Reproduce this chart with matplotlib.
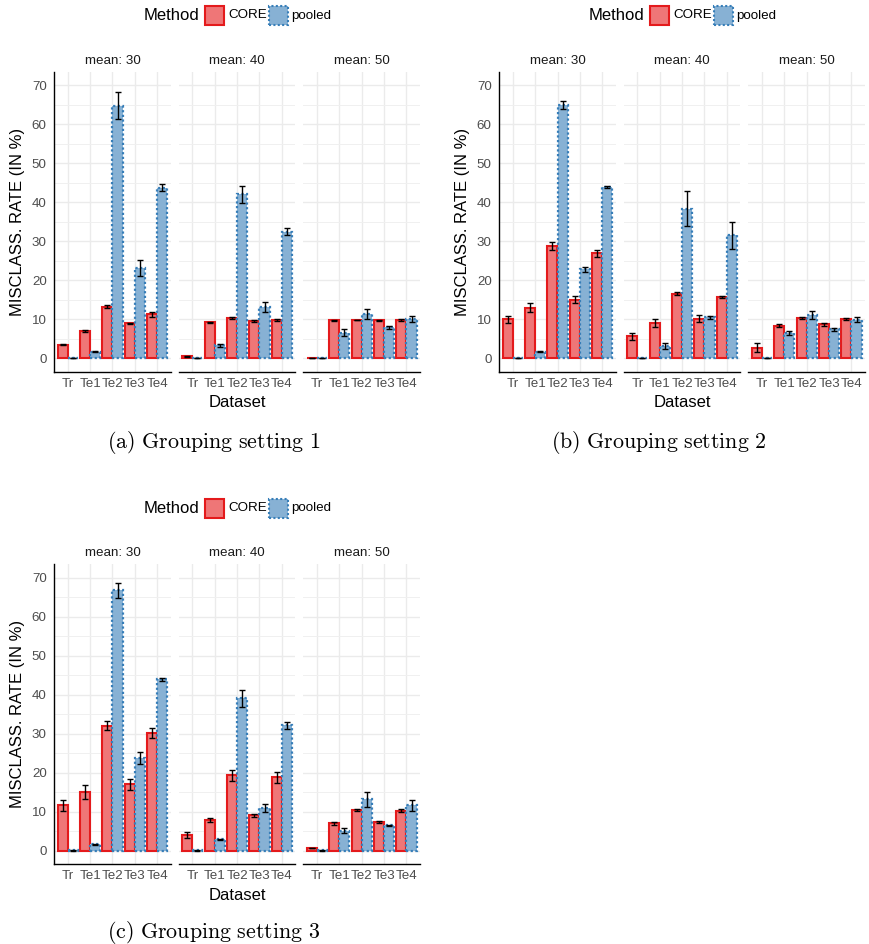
import matplotlib
matplotlib.use("Agg")
import matplotlib.pyplot as plt
from matplotlib.patches import Rectangle
import numpy as np

plt.rcParams["font.family"] = ["Liberation Sans", "DejaVu Sans"]
plt.rcParams["mathtext.fontset"] = "cm"

# ---------------------------------------------------------------- data
datasets = ["Tr", "Te1", "Te2", "Te3", "Te4"]
means = [30, 40, 50]
methods = ["CORE", "pooled"]

# rows: mean 30, 40, 50 ; columns: Tr, Te1, Te2, Te3, Te4
core_s1 = [[3.5, 7.0, 13.2, 9.0, 11.3],
           [0.5, 9.2, 10.3, 9.5, 9.8],
           [0.1, 9.7, 9.8, 9.7, 9.8]]
core_s1_err = [[0.2, 0.3, 0.4, 0.1, 0.6],
               [0.1, 0.2, 0.2, 0.2, 0.2],
               [0.05, 0.2, 0.1, 0.2, 0.2]]
pooled_s1 = [[0.1, 1.7, 64.8, 23.1, 43.8],
             [0.1, 3.3, 42.1, 13.2, 32.5],
             [0.1, 6.6, 11.3, 7.9, 10.1]]
pooled_s1_err = [[0.05, 0.1, 3.5, 2.0, 1.0],
                 [0.05, 0.3, 2.2, 1.3, 0.9],
                 [0.05, 0.8, 1.3, 0.4, 0.7]]

core_s2 = [[10.0, 13.0, 28.8, 15.0, 26.9],
           [5.6, 9.1, 16.6, 10.2, 15.8],
           [2.7, 8.4, 10.3, 8.7, 10.0]]
core_s2_err = [[0.9, 1.1, 1.0, 0.9, 1.0],
               [1.0, 0.95, 0.3, 0.8, 0.3],
               [1.1, 0.3, 0.3, 0.3, 0.3]]
pooled_s2 = [[0.1, 1.7, 65.0, 22.8, 44.0],
             [0.1, 3.1, 38.4, 10.5, 31.5],
             [0.1, 6.5, 11.0, 7.4, 9.9]]
pooled_s2_err = [[0.05, 0.2, 1.0, 0.6, 0.3],
                 [0.05, 0.75, 4.4, 0.4, 3.4],
                 [0.05, 0.6, 1.0, 0.3, 0.6]]

core_s3 = [[11.7, 15.1, 32.1, 17.1, 30.1],
           [4.1, 7.9, 19.4, 9.1, 18.8],
           [0.7, 7.0, 10.5, 7.3, 10.3]]
core_s3_err = [[1.4, 1.7, 1.1, 1.4, 1.3],
               [0.8, 0.4, 1.4, 0.4, 1.3],
               [0.1, 0.4, 0.3, 0.3, 0.3]]
pooled_s3 = [[0.1, 1.7, 66.8, 23.8, 44.0],
             [0.1, 2.9, 39.1, 10.9, 32.2],
             [0.1, 5.1, 13.2, 6.5, 11.7]]
pooled_s3_err = [[0.05, 0.1, 2.0, 1.5, 0.4],
                 [0.05, 0.2, 2.2, 1.0, 0.95],
                 [0.05, 0.65, 1.9, 0.1, 1.45]]

# ---------------------------------------------------------------- style
W, H = 870, 944
fig = plt.figure(figsize=(W / 100, H / 100), dpi=100)

CORE_FILL, CORE_EDGE = "#EF7677", "#E41A1C"
POOL_FILL, POOL_EDGE = "#87B1D4", "#377EB8"
DOTTED = (0, (1.0, 1.1))
TICK_COL = "#4D4D4D"


def fbox(l, t, r, b):
    """pixel box (left, top, right, bottom) -> figure fraction rect"""
    return [l / W, 1 - b / H, (r - l) / W, (b - t) / H]


def ftext(x, y, s, **kw):
    fig.text(x / W, 1 - y / H, s, **kw)


def fkey(l, t, size, fill, edge, ls):
    fig.add_artist(Rectangle((l / W, 1 - (t + size) / H), size / W, size / H,
                             transform=fig.transFigure, facecolor=fill,
                             edgecolor=edge, linewidth=1.5, linestyle=ls))


def draw_setting(x0, y0, core, core_err, pooled, pooled_err, caption, cap_y):
    facet_off = [0, 124.6, 249.2]
    facet_w = 116.4
    top, bottom = 71.7 + y0, 371.7 + y0
    x = np.arange(1, len(datasets) + 1)
    for i, m in enumerate(means):
        l = x0 + facet_off[i]
        ax = fig.add_axes(fbox(l, top, l + facet_w, bottom))
        ax.set_xlim(0.4, 5.6)
        ax.set_ylim(-3.44, 73.5)
        ax.set_yticks(np.arange(0, 71, 10))
        ax.set_yticks(np.arange(5, 70, 10), minor=True)
        ax.set_xticks(x)
        ax.set_xticklabels(datasets)
        ax.set_axisbelow(True)
        ax.grid(which="major", color="#EBEBEB", linewidth=1.0)
        ax.grid(which="minor", axis="y", color="#F0F0F0", linewidth=0.7)
        for s in ("top", "right", "left"):
            ax.spines[s].set_visible(False)
        ax.spines["bottom"].set_color("black")
        ax.spines["bottom"].set_linewidth(1.0)
        if i == 0:
            ax.spines["left"].set_visible(True)
            ax.spines["left"].set_color("black")
            ax.spines["left"].set_linewidth(1.0)
        ax.tick_params(which="both", length=0, labelsize=9.6,
                       labelcolor=TICK_COL, pad=4.5)
        ax.tick_params(axis="y", pad=5.5)
        if i > 0:
            ax.tick_params(axis="y", labelleft=False)

        ax.bar(x - 0.225, core[i], width=0.45, color=CORE_FILL,
               edgecolor=CORE_EDGE, linewidth=1.5, zorder=2)
        ax.bar(x + 0.225, pooled[i], width=0.45, color=POOL_FILL,
               edgecolor=POOL_EDGE, linewidth=1.6, linestyle=DOTTED, zorder=2)
        ax.errorbar(x - 0.225, core[i], yerr=core_err[i], fmt="none",
                    ecolor="black", elinewidth=1.0, capsize=2.3,
                    capthick=1.0, zorder=3)
        ax.errorbar(x + 0.225, pooled[i], yerr=pooled_err[i], fmt="none",
                    ecolor="black", elinewidth=1.0, capsize=2.3,
                    capthick=1.0, zorder=3)

        ftext(l + facet_w / 2, 60.5 + y0, f"mean: {m}", fontsize=9.6,
              color="#1A1A1A", ha="center", va="center")

    # shared axis titles
    ftext(x0 + (facet_off[2] + facet_w) / 2, 403 + y0, "Dataset",
          fontsize=12, ha="center", va="center")
    ftext(x0 - 37, (top + bottom) / 2, "MISCLASS. RATE (IN %)", fontsize=12,
          rotation=90, ha="center", va="center")

    # legend on top
    ftext(x0 + 89.7, 16 + y0, "Method", fontsize=12, ha="left",
          va="center")
    fkey(x0 + 150.7, 6 + y0, 19, CORE_FILL, CORE_EDGE, "solid")
    ftext(x0 + 173.7, 15.5 + y0, methods[0], fontsize=9.6, ha="left",
          va="center")
    fkey(x0 + 214.4, 6 + y0, 19, POOL_FILL, POOL_EDGE, DOTTED)
    ftext(x0 + 236.7, 15.5 + y0, methods[1], fontsize=9.6, ha="left",
          va="center")

    ftext(x0 + 159.2, cap_y, caption, fontsize=15.8, ha="center",
          va="baseline")


draw_setting(54.3, 0, core_s1, core_s1_err, pooled_s1, pooled_s1_err,
             r"$\mathrm{(a)\ Grouping\ setting\ 1}$", 447.5)
draw_setting(499.3, 0, core_s2, core_s2_err, pooled_s2, pooled_s2_err,
             r"$\mathrm{(b)\ Grouping\ setting\ 2}$", 447.5)
draw_setting(54.3, 492.5, core_s3, core_s3_err, pooled_s3, pooled_s3_err,
             r"$\mathrm{(c)\ Grouping\ setting\ 3}$", 937.5)

fig.savefig("out.png", dpi=100, facecolor="white")
